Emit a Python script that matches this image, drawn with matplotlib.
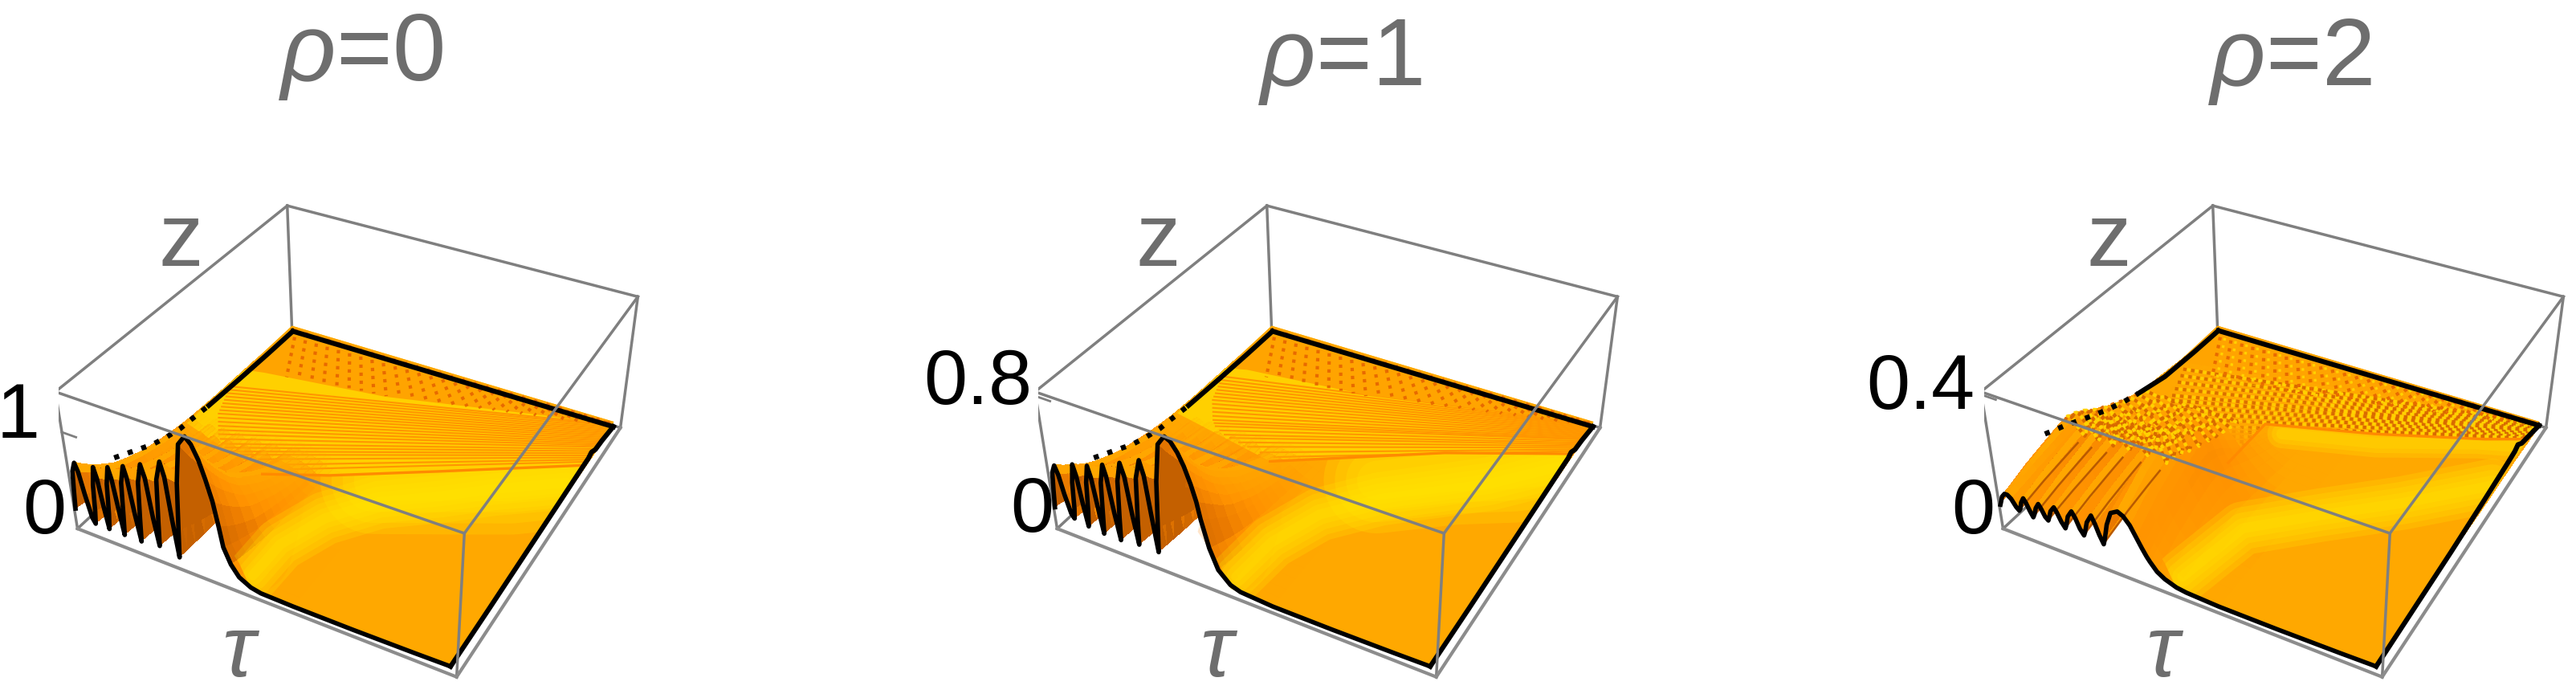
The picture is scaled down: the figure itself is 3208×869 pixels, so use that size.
import numpy as np
import matplotlib
matplotlib.use('Agg')
import matplotlib.pyplot as plt
from matplotlib.colors import LinearSegmentedColormap
from matplotlib.patches import Polygon
from mpl_toolkits.mplot3d import proj3d
from mpl_toolkits.mplot3d.art3d import Poly3DCollection

plt.rcParams['font.family'] = ['Liberation Sans', 'DejaVu Sans']
plt.rcParams['mathtext.fontset'] = 'custom'
plt.rcParams['mathtext.it'] = 'Liberation Sans:italic'
plt.rcParams['mathtext.rm'] = 'Liberation Sans'

W, H = 3208, 869

# values, tau and z as fractions of the box, height too
tau_knots = [.004, .008, .013, .022, .030, .040, .052, .060,
             .064, .069, .077, .084, .092, .100, .105, .111, .120, .127, .136, .144,
             .148, .154, .165, .172, .182, .192, .196, .203, .215, .224, .234, .244,
             .248, .256, .270, .279, .288, .298, .303, .312, .326, .345,
             .360, .376, .390, .404, .415, .423, .440, .460, .490, .516, .600, .750, .900, .985]

front_h0 = [.16, .30, .45, .52, .46, .30, .14, .10,
            .20, .40, .54, .46, .26, .10, .22, .45, .58, .50, .28, .10,
            .25, .50, .63, .55, .30, .10, .28, .55, .69, .60, .32, .12,
            .30, .62, .76, .66, .36, .09, .30, .65, .93, 1.0,
            .96, .87, .75, .61, .44, .30, .19, .115, .07, .055, .05, .05, .055, .06]
front_h1 = [.17, .30, .44, .50, .44, .30, .17, .14,
            .22, .42, .56, .48, .28, .12, .24, .46, .59, .51, .29, .11,
            .26, .50, .64, .56, .31, .11, .29, .56, .70, .61, .34, .13,
            .32, .63, .77, .67, .40, .13, .32, .66, .93, 1.0,
            .98, .92, .84, .73, .62, .50, .31, .17, .09, .065, .05, .05, .055, .06]
front_h2 = [.19, .22, .26, .29, .29, .27, .22, .20,
            .22, .27, .31, .28, .23, .19, .22, .27, .31, .28, .23, .21,
            .24, .29, .33, .30, .24, .20, .23, .30, .35, .31, .24, .20,
            .23, .31, .375, .32, .25, .19, .24, .35, .45, .48,
            .46, .41, .34, .27, .22, .19, .135, .10, .07, .06, .05, .05, .055, .06]
upper_h2 = [.36, .38, .40, .41, .39, .35, .31, .29,
            .31, .38, .44, .40, .33, .29, .31, .39, .45, .41, .33, .29,
            .31, .39, .45, .41, .33, .30, .32, .40, .46, .42, .34, .31,
            .33, .42, .49, .44, .36, .30, .36, .50, .66, .74,
            .73, .69, .63, .56, .49, .44, .35, .25, .13, .08, .05, .05, .055, .06]
trough_knots = [7, 13, 19, 25, 31, 37]

z_rows = [0, .03, .06, .10, .14, .18, .21, .24, .27, .30, .335, .37, .415, .46, .495, .53, .565, .60, .80, .985]
base_h = [.055, .055, .055, .055, .055, .055, .055, .055, .055, .055, .055, .055, .055, .055, .052, .05, .047, .045, .04, .02]
decay_0 = [1, .86, .74, .60, .48, .40, .35, .30, .26, .22, .18, .15, .11, .08, .065, .05, .04, .03, 0, 0]
decay_1 = [1, .88, .77, .63, .52, .44, .38, .33, .29, .25, .21, .17, .13, .10, .08, .06, .045, .03, 0, 0]
decay_2 = [1, .85, .70, .50, .35, .20, .12, .05, .02, 0, 0, 0, 0, 0, 0, 0, 0, 0, 0, 0]
rise_2 = [0, .15, .30, .50, .65, .80, .89, .97, 1.0, .95, .84, .70, .55, .42, .33, .25, .18, .12, 0, 0]
no_rise = [0] * 20
cover_0 = [1, 1, 1, 1, 1, 1, 1, 1, 1, 1, 1, .7, .35, .1, 0, 0, 0, 0, 0, 0]
cover_2 = [1, 1, 1, 1, 1, 1, 1, 1, 1, 1, 1, 1, .85, .7, .5, .35, .2, .1, 0, 0]

# black outline: left side, dotted where the ripples reach it, then solid
dots_z0 = [.15, .18, .20, .24, .27, .30, .33, .36, .39, .42, .46, .50, .55]
dots_h0 = [.29, .26, .24, .20, .17, .14, .12, .10, .085, .07, .065, .055, .045]
left_z0 = [.55, .60, .70, .85, .985]
left_h0 = [.045, .04, .03, .02, .015]
dots_z2 = [.18, .265, .35, .43, .50, .57]
dots_h2 = [.42, .35, .27, .20, .15, .11]
left_z2 = [.57, .70, .85, .985]
left_h2 = [.11, .05, .03, .02]
right_z = [0, .20, .40, .60, .75, .80, .82, .85, .90, .985]
right_h0 = [.06, .06, .065, .07, .075, .075, .09, .06, .05, .02]
right_h2 = [.06, .07, .08, .10, .12, .13, .15, .11, .08, .03]

# yellow band across the smooth part, glow above it, orange foot of the hump
band_t0 = [.47, .47, .515, .60, .72, .82, .97]
band_s0 = [.04, .16, .29, .405, .495, .58, .69]
glow_t0 = [.55, .72, .85, .98]
glow_s0 = [.47, .56, .63, .73]
band_t1 = [.48, .49, .54, .64, .85, .97]
band_s1 = [.04, .18, .32, .44, .62, .76]
glow_t1 = [.60, .75, .88, .98]
glow_s1 = [.50, .62, .70, .78]
band_t2 = [.48, .517, .656, .81, .975]
band_s2 = [.04, .25, .38, .515, .68]
glow_t2 = [.42, .65, .88, .98]
glow_s2 = [.62, .70, .82, .86]
foot_t = [.43, .40, .36, .30]
foot_s = [.10, .18, .27, .36]
foot_clip_t = [.49, .985, .985, .004, .004, .30, .42]
foot_clip_s = [0, 0, .985, .985, .40, .14, .06]
smooth_start_t = [.49, .985]
smooth_start_s = [0, 0]
smooth_end_t = [.30, .42]
smooth_end_s = [.14, .06]

# rippled part: outline of the whole, then of the part near the back
ripple_t0 = [.01, .295, .443, .675, .985, .985, .01]
ripple_s0 = [.45, .363, .437, .581, .777, .985, .985]
ripple_t1 = [.01, .33, .50, .70, .985, .985, .01]
ripple_s1 = [.50, .44, .55, .68, .83, .985, .985]
ripple_t2 = [.01, .36, .362, .633, .888, .985, .985, .01]
ripple_s2 = [.40, .45, .636, .734, .847, .90, .985, .985]
upper_t0 = [.01, .0655, .409, .82, .985, .985, .01]
upper_s0 = [.73, .744, .801, .926, .965, .985, .985]
upper_t1 = [.01, .0655, .409, .82, .985, .985, .01]
upper_s1 = [.74, .76, .81, .93, .97, .985, .985]
upper_t2 = [.01, .03, .56, .985, .985, .01]
upper_s2 = [.77, .781, .896, .975, .985, .985]

# fan of stripes: start, then where each meets the right side
fan_t0 = [.30, .26, .22, .19, .17, .155, .14, .125, .11, .10, .09, .08, .07, .06, .055, .05, .045, .04, .035, .03, .025, .02]
fan_s0 = [.385, .385, .39, .395, .40, .41, .42, .435, .45, .465, .48, .495, .51, .525, .54, .555, .57, .585, .60, .615, .63, .645]
fan_e0 = [.79, .80, .81, .82, .83, .84, .85, .86, .868, .876, .884, .892, .90, .908, .916, .924, .932, .94, .948, .956, .964, .97]
fan_t1 = [.33, .29, .25, .22, .19, .17, .15, .13, .12, .11, .10, .09, .08, .07, .06, .055, .05, .045, .04, .035, .03, .02]
fan_s1 = [.46, .46, .465, .47, .475, .48, .49, .50, .51, .52, .535, .55, .565, .58, .595, .61, .625, .64, .655, .67, .685, .70]
fan_e1 = [.84, .848, .856, .864, .872, .88, .888, .896, .90, .906, .912, .918, .924, .93, .936, .942, .948, .954, .96, .965, .97, .975]
fan_t2 = [.36, .33, .30, .27, .24, .21, .18, .15, .13, .11, .09, .08, .07, .06, .05, .04]
fan_s2 = [.50, .50, .50, .50, .51, .52, .53, .55, .57, .59, .61, .63, .66, .69, .72, .75]
fan_e2 = [.86, .868, .876, .884, .892, .90, .908, .916, .924, .932, .94, .948, .956, .96, .968, .975]

hatch_top = [.03, .065, .10, .135, .17, .205, .24, .275, .31, .345, .38, .415, .45, .485,
             .52, .555, .59, .625, .66, .695, .73, .765, .80, .835, .87, .905, .94, .97]
hatch_end_t = [.13, .165, .20, .235, .27, .305, .34, .375, .41, .445, .48, .515, .55, .585,
               .62, .655, .69, .725, .76, .795, .83, .865, .90, .93, .955, .97, .975, .98]
hatch_end_s = [.755, .76, .77, .775, .785, .79, .795, .80, .805, .815, .825, .835, .845, .855,
               .865, .875, .885, .895, .905, .915, .925, .935, .945, .955, .96, .965, .97, .972]

tick_h = [.72, .97, .98]
titles = ['$\\mathit{ρ}$=0', '$\\mathit{ρ}$=1', '$\\mathit{ρ}$=2']
top_labels = ['1', '0.8', '0.4']

# layout in pixels of the 3208x869 picture
panel_left = [72.7, 1292.7, 2470.7]
axes_bottom = -20
axes_side = 734.2
title_x = [449, 1669, 2852]
title_y = [100, 106, 106]
top_label_x = [50, 1285, 2459]
top_label_y = [545, 503, 509]
zero_label_x = [82, 1312, 2484]
zero_y = [664, 662, 664]
z_label_x = [225, 1442, 2626]
tau_label_x = [300, 1518, 2696]

box_color = '#7f7f7f'
label_gray = '#6e6e6e'
flat_color = '#FFA800'
yellow = '#FFE600'
slope_cmap = LinearSegmentedColormap.from_list(
    'slope', [(0, flat_color), (.25, '#FF9200'), (.5, '#E87800'), (1, '#C46000')])


def px(x, y):
    return x / W, 1 - y / H


def clip_patch(ax, t, s, h):
    xs, ys, _ = proj3d.proj_transform(np.array(t), np.array(s), np.full(len(t), h), ax.get_proj())
    return Polygon(np.column_stack([xs, ys]), transform=ax.transData)


def draw_panel(ax, n, front_h, upper_h, decay, rise, cover, dots, left, right_h,
               band, glow, glow_widths, foot, ripple, upper, fan, speckled):
    ax.set_xlim(0, 1)
    ax.set_ylim(0, 1)
    ax.set_zlim(0, 1)
    ax.set_box_aspect((1.0608, 1.0572, .4243))
    ax.view_init(36.09, -61.30, .2056)
    ax.set_proj_type('persp', focal_length=.4368)
    ax.set_axis_off()

    # back of the box
    c = [(0, 0, 0), (1, 0, 0), (1, 1, 0), (0, 1, 0), (0, 0, 1), (1, 0, 1), (1, 1, 1), (0, 1, 1)]
    for i, j in [(3, 0), (3, 2), (3, 7), (7, 6), (7, 4), (0, 4), (2, 6)]:
        ax.plot(*zip(c[i], c[j]), color=box_color, lw=2.5, zorder=1)
    ax.plot([0, .04], [0, 0], [tick_h[n], tick_h[n]], color=box_color, lw=2, zorder=1)

    tau = np.array(tau_knots)
    z = np.array(z_rows)
    base = np.array(base_h)
    Tau, Z = np.meshgrid(tau, z)
    Hh = base[:, None] + np.outer(decay, np.array(front_h) - .05) + np.outer(rise, np.array(upper_h) - .05)
    slope = np.abs(np.gradient(Hh, tau, axis=1))
    colors = slope_cmap(np.clip(slope / 22, 0, 1))

    ax.plot_surface(Tau, Z, Hh, color=flat_color, shade=False, rstride=1, cstride=1,
                    linewidth=0, antialiased=False, zorder=2)

    plane = .06
    foot_clip = clip_patch(ax, foot_clip_t, foot_clip_s, plane)
    ripple_clip = clip_patch(ax, ripple[0], ripple[1], plane)
    smooth_clip = clip_patch(ax, smooth_start_t + ripple[0][:-2][::-1] + smooth_end_t,
                             smooth_start_s + ripple[1][:-2][::-1] + smooth_end_s, plane)

    if foot is not None:
        for w in [70, 46, 24]:
            line, = ax.plot(foot[0], foot[1], [plane] * len(foot[0]), color='#FF8400', lw=w,
                            alpha=.2, solid_capstyle='round', zorder=3)
            line.set_clip_path(foot_clip)

    bg = '#FFA800' if speckled else '#FFD000'
    verts = [list(zip(ripple[0], ripple[1], [plane] * len(ripple[0])))]
    ax.add_collection3d(Poly3DCollection(verts, facecolors=bg, linewidths=0, zorder=5))

    for t0, s0, e in zip(*fan):
        if speckled:
            for color, offset in [('#D86A00', 0), ('#FFD200', 1.2)]:
                line, = ax.plot([t0, .98], [s0, e], [plane, plane], color=color, lw=3,
                                ls=(offset, (1, 1.4)), zorder=6)
                line.set_clip_path(ripple_clip)
        else:
            line, = ax.plot([t0, .98], [s0, e], [plane, plane], color='#FF9600', lw=1.5, zorder=6)
            line.set_clip_path(ripple_clip)

    verts = [list(zip(upper[0], upper[1], [plane] * len(upper[0])))]
    ax.add_collection3d(Poly3DCollection(verts, facecolors='#FFA400', linewidths=0, zorder=7))
    for t, te, se in zip(hatch_top, hatch_end_t, hatch_end_s):
        ax.plot([t, te], [.975, se], [plane, plane], color='#E86A00', lw=3, ls=(0, (1, 1.4)), zorder=8)
        if speckled:
            ax.plot([t + .015, te + .015], [.975, se], [plane, plane], color='#FFD200', lw=2.4,
                    ls=(0, (1, 1.8)), zorder=8)

    # only the raised part goes over the paint above
    colors[..., 3] = np.clip((Hh - base[:, None]) / .06, 0, 1) * np.array(cover)[:, None]
    ax.plot_surface(Tau, Z, Hh, facecolors=colors, shade=False, rstride=1, cstride=1,
                    linewidth=0, antialiased=False, zorder=9)

    # soft yellow on the smooth part, wide see-through strokes
    for path, widths in [(glow, glow_widths), (band, [48, 38, 28, 18, 9])]:
        for w in widths:
            line, = ax.plot(path[0], path[1], [plane] * len(path[0]), color=yellow, lw=w,
                            alpha=.24, solid_capstyle='round', zorder=9)
            line.set_clip_path(smooth_clip)
    ax.plot(ripple[0][1:-2], ripple[1][1:-2], [plane] * (len(ripple[0]) - 3), color='#FF8A00', lw=2.4, zorder=9)

    if speckled:
        # dark creases up the ridges and the speckles left of the crest
        for k in trough_knots:
            ax.plot(Tau[:8, k], Z[:8, k], Hh[:8, k], color='#B85A00', lw=1.8, zorder=9)
        for r in range(8, 18):
            for color, offset in [('#D86A00', 0), ('#FFD200', 1.2)]:
                ax.plot(Tau[r, :39], Z[r, :39], Hh[r, :39], color=color, lw=3,
                        ls=(offset, (1, 1.4)), zorder=9)

    # black outline
    ax.plot([.012] * len(dots[0]), dots[0], dots[1], color='black', lw=4.6, ls=(0, (1, 1.8)), zorder=10)
    ax.plot([.012] * len(left[0]), left[0], left[1], color='black', lw=4.4, zorder=10)
    ax.plot([.012, .985], [.985, .985], [left[1][-1], right_h[-1]], color='black', lw=4.4, zorder=10)
    ax.plot([.985] * len(right_z), right_z, right_h, color='black', lw=4.4, zorder=10)
    ax.plot(tau, np.zeros(len(tau)), front_h, color='black', lw=4, solid_joinstyle='round', zorder=11)

    # front of the box
    for i, j in [(4, 5), (5, 6), (5, 1)]:
        ax.plot(*zip(c[i], c[j]), color=box_color, lw=2.5, zorder=12)
    for i, j in [(1, 0), (1, 2)]:
        ax.plot(*zip(c[i], c[j]), color='#8c8c8c', lw=3, zorder=12)


fig = plt.figure(figsize=(W / 100, H / 100), dpi=100)

panels = [
    (front_h0, upper_h2, decay_0, no_rise, cover_0, (dots_z0, dots_h0), (left_z0, left_h0), right_h0,
     (band_t0, band_s0), (glow_t0, glow_s0), [95, 75, 55, 35], (foot_t, foot_s),
     (ripple_t0, ripple_s0), (upper_t0, upper_s0), (fan_t0, fan_s0, fan_e0), False),
    (front_h1, upper_h2, decay_1, no_rise, cover_0, (dots_z0, dots_h0), (left_z0, left_h0), right_h0,
     (band_t1, band_s1), (glow_t1, glow_s1), [95, 75, 55, 35], (foot_t, foot_s),
     (ripple_t1, ripple_s1), (upper_t1, upper_s1), (fan_t1, fan_s1, fan_e1), False),
    (front_h2, upper_h2, decay_2, rise_2, cover_2, (dots_z2, dots_h2), (left_z2, left_h2), right_h2,
     (band_t2, band_s2), (glow_t2, glow_s2), [26, 18, 10], None,
     (ripple_t2, ripple_s2), (upper_t2, upper_s2), (fan_t2, fan_s2, fan_e2), True),
]

for n, p in enumerate(panels):
    ax = fig.add_axes([panel_left[n] / W, axes_bottom / H, axes_side / W, axes_side / H],
                      projection='3d', computed_zorder=False)
    draw_panel(ax, n, *p)

    fig.text(*px(title_x[n], title_y[n]), titles[n], fontsize=86, color=label_gray, ha='center', va='baseline')
    fig.text(*px(top_label_x[n], top_label_y[n]), top_labels[n], fontsize=70, color='black', ha='right', va='baseline')
    fig.text(*px(zero_label_x[n], zero_y[n]), '0', fontsize=70, color='black', ha='right', va='baseline')
    fig.text(*px(z_label_x[n], 331), 'z', fontsize=80, color=label_gray, ha='center', va='baseline')
    fig.text(*px(tau_label_x[n], 842), '$\\mathit{τ}$', fontsize=78, color=label_gray, ha='center', va='baseline')

fig.savefig('out.png', dpi=100)
